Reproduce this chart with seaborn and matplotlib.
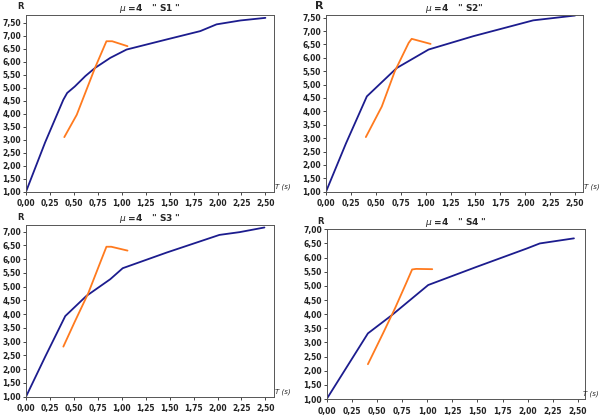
import matplotlib
matplotlib.use("Agg")
import matplotlib.pyplot as plt
import seaborn as sns
import pandas as pd
from matplotlib.ticker import FuncFormatter, MultipleLocator

# blue curve (R vs T) for each soil class
t_blue_s1 = [0.0, 0.20, 0.39, 0.43, 0.51, 0.62, 0.72, 0.88, 1.05, 1.47, 1.82, 1.99, 2.24, 2.50]
r_blue_s1 = [1.00, 2.90, 4.54, 4.80, 5.05, 5.45, 5.76, 6.15, 6.47, 6.86, 7.18, 7.44, 7.59, 7.69]
t_blue_s2 = [0.0, 0.20, 0.41, 0.71, 1.03, 1.48, 2.08, 2.50]
r_blue_s2 = [1.00, 2.80, 4.56, 5.62, 6.31, 6.81, 7.40, 7.58]
t_blue_s3 = [0.0, 0.20, 0.41, 0.63, 0.88, 1.01, 1.47, 2.02, 2.23, 2.49]
r_blue_s3 = [1.00, 2.45, 3.93, 4.66, 5.27, 5.67, 6.24, 6.88, 6.98, 7.15]
t_blue_s4 = [0.0, 0.41, 0.65, 0.83, 1.01, 1.49, 1.99, 2.12, 2.46]
r_blue_s4 = [1.00, 3.32, 3.97, 4.50, 5.03, 5.67, 6.32, 6.50, 6.68]

# orange curve
t_or_s1 = [0.40, 0.53, 0.72, 0.84, 0.90, 1.06]
r_or_s1 = [3.10, 3.96, 5.76, 6.79, 6.79, 6.60]
t_or_s2 = [0.40, 0.56, 0.69, 0.83, 0.86, 1.05]
r_or_s2 = [3.04, 4.18, 5.49, 6.56, 6.71, 6.52]
t_or_s3 = [0.39, 0.51, 0.65, 0.77, 0.84, 0.89, 1.06]
r_or_s3 = [2.82, 3.73, 4.76, 5.83, 6.45, 6.45, 6.31]
t_or_s4 = [0.41, 0.56, 0.68, 0.79, 0.85, 0.89, 1.05]
r_or_s4 = [2.23, 3.32, 4.21, 5.09, 5.58, 5.60, 5.59]

titles = ['" S1 "', '" S2"', '" S3 "', '" S4 "']
y_max = [7.8, 7.6, 7.24, 7.0]
x_max = [2.59, 2.58, 2.59, 2.57]

BLUE = "#1c1c8e"
ORANGE = "#ff7a1e"

sns.set_style("white")
plt.rcParams["font.family"] = ["DejaVu Sans"]

fig = plt.figure(figsize=(6, 4.17), dpi=100)
W, H = 600, 417
# axes boxes in pixels: left, top, right, bottom
boxes = [(26, 15, 274, 191.7), (326, 15, 583, 191.7),
         (26, 225, 274, 396.7), (326.7, 229.3, 585, 399)]

blue = [(t_blue_s1, r_blue_s1), (t_blue_s2, r_blue_s2), (t_blue_s3, r_blue_s3), (t_blue_s4, r_blue_s4)]
orange = [(t_or_s1, r_or_s1), (t_or_s2, r_or_s2), (t_or_s3, r_or_s3), (t_or_s4, r_or_s4)]

fmt = FuncFormatter(lambda v, p: f"{v:.2f}".replace(".", ","))

for i in range(4):
    l, t, r, b = boxes[i]
    ax = fig.add_axes([l / W, 1 - b / H, (r - l) / W, (b - t) / H])
    dfb = pd.DataFrame({"T": blue[i][0], "R": blue[i][1]})
    dfo = pd.DataFrame({"T": orange[i][0], "R": orange[i][1]})
    sns.lineplot(data=dfb, x="T", y="R", ax=ax, color=BLUE, lw=1.3, estimator=None, sort=False)
    sns.lineplot(data=dfo, x="T", y="R", ax=ax, color=ORANGE, lw=1.3, estimator=None, sort=False)
    ax.set_xlim(0, x_max[i])
    ax.set_ylim(1, y_max[i])
    ax.xaxis.set_major_locator(MultipleLocator(0.25))
    ax.yaxis.set_major_locator(MultipleLocator(0.5))
    ax.xaxis.set_major_formatter(fmt)
    ax.yaxis.set_major_formatter(fmt)
    ax.tick_params(axis="x", pad=3.5)
    ax.tick_params(axis="y", pad=1.5)
    ax.tick_params(axis="both", labelsize=5.5, length=2, width=0.6, direction="out",
                   bottom=True, left=True)
    for lab in ax.get_xticklabels() + ax.get_yticklabels():
        lab.set_fontweight("bold")
        lab.set_color("#222222")
    for s in ax.spines.values():
        s.set_color("#555555")
        s.set_linewidth(0.7)
    ax.set_xlabel("")
    ax.set_ylabel("")
    ax.set_title(r"$\mu$ =4   " + titles[i], fontsize=6.5, fontweight="bold", pad=3)
    # axis names
    ax.text(-0.01, 1.02, "R", transform=ax.transAxes, fontsize=6 if i != 1 else 8,
            fontweight="bold", ha="right", va="bottom")
    if i == 3:
        fig.text(599 / W, 1 - 394 / H, "T (s)", fontsize=5, style="italic",
                 ha="right", va="center")
    else:
        ax.text(1.005, 0.03, "T (s)", transform=ax.transAxes, fontsize=5, style="italic",
                ha="left", va="center")

fig.savefig("out.png", dpi=100)
